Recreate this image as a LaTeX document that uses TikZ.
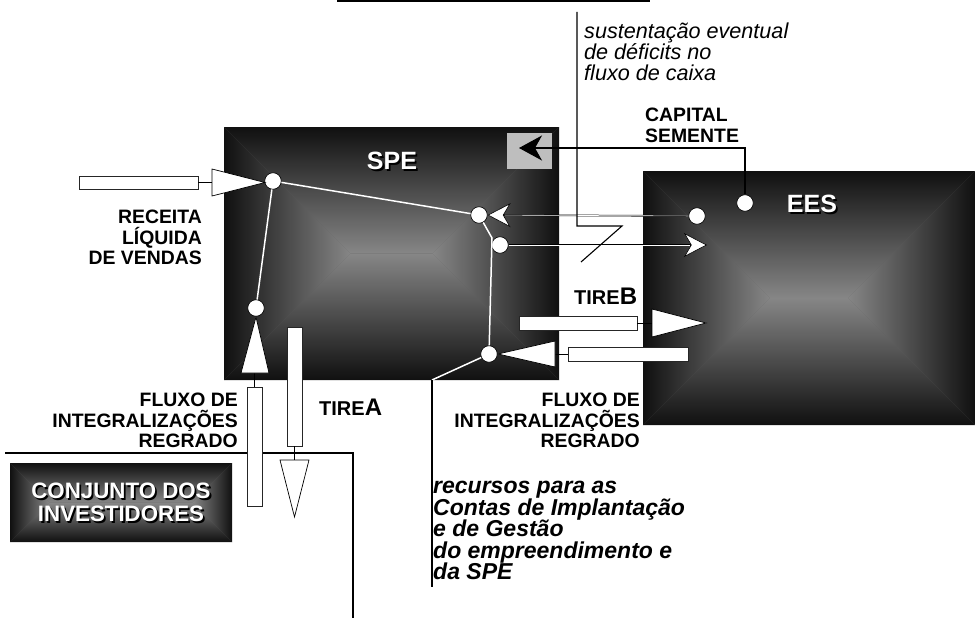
\documentclass[tikz,border=0pt]{standalone}
\usepackage{fontspec}
\setmainfont{Liberation Sans}
\usepackage{xcolor}
\definecolor{bvout}{RGB}{16,16,16}
\definecolor{bvmid}{RGB}{96,96,96}
\definecolor{bvin}{RGB}{134,134,134}
\definecolor{semente}{RGB}{190,190,190}
\usepackage{tikz}
\usetikzlibrary{arrows.meta}

\newcommand{\shtext}[1]{\leavevmode\rlap{\kern1.8pt\raisebox{-1.8pt}{\textcolor{black}{#1}}}#1}
\newcommand{\bevelbox}[4]{%
  \pgfmathsetmacro{\bvd}{min(#3-#1,#4-#2)/2}
  \fill[bvmid] (#1,#2) rectangle (#3,#4);
  \shade[top color=bvout, middle color=bvmid, bottom color=bvin] (#1,#2) -- (#3,#2) -- (#3-\bvd,#2+\bvd) -- (#1+\bvd,#2+\bvd) -- cycle;
  \shade[bottom color=bvout, middle color=bvmid, top color=bvin] (#1,#4) -- (#3,#4) -- (#3-\bvd,#4-\bvd) -- (#1+\bvd,#4-\bvd) -- cycle;
  \shade[left color=bvout, middle color=bvmid, right color=bvin] (#1,#2) -- (#1+\bvd,#2+\bvd) -- (#1+\bvd,#4-\bvd) -- (#1,#4) -- cycle;
  \shade[right color=bvout, middle color=bvmid, left color=bvin] (#3,#2) -- (#3-\bvd,#2+\bvd) -- (#3-\bvd,#4-\bvd) -- (#3,#4) -- cycle;
}

\begin{document}
\begin{tikzpicture}[x=1pt,y=-1pt]
    \tikzstyle{dot}=[circle, draw=black, fill=white, line width=0.6pt, minimum size=16.5pt, inner sep=0pt]
    \tikzstyle{bar}=[rectangle, draw=black!85, fill=white, line width=0.7pt, inner sep=0pt]
    \tikzstyle{tri}=[draw=black, fill=white, line width=0.7pt]
    \tikzstyle{stub}=[black, line width=1pt]
    \tikzstyle{wline}=[white, line width=1.5pt]
    \tikzstyle{bline}=[black, line width=1.1pt]
    \tikzstyle{casing}=[black, line width=1.6pt]
    \tikzstyle{core}=[white, line width=0.6pt]
    \tikzstyle{lbl}=[inner sep=0pt, font=\bfseries\fontsize{19.4}{20.5}\selectfont]
    \tikzstyle{boxlbl}=[inner sep=0pt, text=white, font=\bfseries\fontsize{25}{27}\selectfont]
    \useasboundingbox (0,0) rectangle (975,618);

    \bevelbox{224}{127}{559}{380}
    \bevelbox{643}{171}{975}{425}
    \bevelbox{10}{463}{232}{542}
    \fill[semente] (507,133) rectangle (552,169);

    \node[boxlbl] (spe) at (392,162) {\shtext{SPE}};
    \node[boxlbl] (ees) at (812,205) {\shtext{EES}};
    \node[boxlbl, align=center, font=\bfseries\fontsize{22.3}{23}\selectfont] (inv) at (121,503.5)
        {\shtext{CONJUNTO DOS}\\\shtext{INVESTIDORES}};

    \node[dot] (c1) at (273,181) {};
    \node[dot] (c2) at (479,215) {};
    \node[dot] (c3) at (500,245) {};
    \node[dot] (c4) at (256,308) {};
    \node[dot] (c5) at (489,354) {};
    \node[dot] (c6) at (697,216) {};
    \node[dot] (c7) at (745,203) {};

    \coordinate (kink) at (492,238);
    \coordinate (eesin) at (707,245);
    \coordinate (semin) at (519,148);
    \coordinate (rectop) at (432,380);
    \coordinate (recbot) at (432,587);
    \coordinate (topa) at (337,1);
    \coordinate (topb) at (650,1);
    \coordinate (z1) at (577,12);
    \coordinate (z2) at (577,226);
    \coordinate (z3) at (622,226);
    \coordinate (z4) at (581,262);
    \coordinate (inv1) at (5,453);
    \coordinate (inv2) at (353,453);
    \coordinate (inv3) at (353,618);

    % fluxos internos da SPE
    \draw[wline] (c1) -- (c2);
    \draw[wline] (c1) -- (c4);
    \draw[wline] (c2) -- (kink) -- (c5);
    \draw[wline] (c5) -- (rectop);
    \draw[bline] (rectop) -- (recbot);

    % SPE <-> EES
    \draw[casing, -{Stealth[length=23pt,width=24pt,inset=7pt,fill=white,line width=0.6pt]}] (c6) -- (c2);
    \draw[core, shorten >=17pt] (c6) -- (c2);
    \draw[casing, -{Stealth[length=23pt,width=24pt,inset=7pt,fill=white,line width=0.6pt]}] (c3) -- (eesin);
    \draw[core, shorten >=17pt] (c3) -- (eesin);
    \draw[bline, -{Stealth[length=23pt,width=25pt,inset=7pt]}] (c7) |- (semin);

    \draw[line width=1.6pt] (topa) -- (topb);
    \draw[bline] (z1) -- (z2) -- (z3) -- (z4);
    \draw[bline] (inv1) -- (inv2) -- (inv3);

    % receita liquida
    \node[bar, minimum width=119pt, minimum height=13pt] (rlvbar) at (138.5,182.5) {};
    \coordinate (rlvtri) at (212,182.5);
    \draw[stub] (rlvbar) -- (rlvtri);
    \draw[tri] (212,169) -- (265,182.5) -- (212,196) -- cycle;

    % tire A
    \node[bar, minimum width=15pt, minimum height=119pt] (intabar) at (254.5,446.5) {};
    \coordinate (intatri) at (254.5,373);
    \draw[stub] (intabar) -- (intatri);
    \draw[tri] (241,373) -- (256,317) -- (269,373) -- cycle;
    \node[bar, minimum width=15pt, minimum height=119pt] (tireabar) at (294.5,386.5) {};
    \coordinate (tireatri) at (294.5,460);
    \draw[stub] (tireabar) -- (tireatri);
    \draw[tri] (280,460) -- (294.5,517) -- (309,460) -- cycle;

    % tire B
    \node[bar, minimum width=118pt, minimum height=14pt] (tirebbar) at (578,323) {};
    \coordinate (tirebtri) at (652,323);
    \draw[stub] (tirebbar) -- (tirebtri);
    \draw[tri] (652,309) -- (706,323) -- (652,337) -- cycle;
    \node[bar, minimum width=120pt, minimum height=14pt] (intbbar) at (628,354) {};
    \coordinate (intbtri) at (555,354);
    \draw[stub] (intbbar) -- (intbtri);
    \draw[tri] (555,341) -- (498,354) -- (555,367) -- cycle;

    \node[lbl, align=right, anchor=north east] (rlv) at (202,210) {RECEITA\\LÍQUIDA\\DE VENDAS};
    \node[lbl, align=right, anchor=north east] (inta) at (238,393) {FLUXO DE\\INTEGRALIZAÇÕES\\REGRADO};
    \node[lbl, align=right, anchor=north east] (intb) at (640,393) {FLUXO DE\\INTEGRALIZAÇÕES\\REGRADO};
    \node[lbl, align=left, anchor=north west] (cap) at (645,108) {CAPITAL\\SEMENTE};
    \node[inner sep=0pt, anchor=base west, font=\bfseries] (tirea) at (319,415)
        {\fontsize{20}{21}\selectfont TIRE\fontsize{24}{25}\selectfont A};
    \node[inner sep=0pt, anchor=base west, font=\bfseries] (tireb) at (574,304)
        {\fontsize{20}{21}\selectfont TIRE\fontsize{24}{25}\selectfont B};
    \node[inner sep=0pt, align=left, anchor=north west, font=\itshape\fontsize{21.6}{21}\selectfont] (sust) at (584,22.5)
        {sustentação eventual\\de déficits no\\fluxo de caixa};
    \node[inner sep=0pt, align=left, anchor=north west, font=\bfseries\itshape\fontsize{23}{21.5}\selectfont] (rec) at (433,481)
        {recursos para as\\Contas de Implantação\\e de Gestão\\do empreendimento e\\da SPE};
\end{tikzpicture}
\end{document}
